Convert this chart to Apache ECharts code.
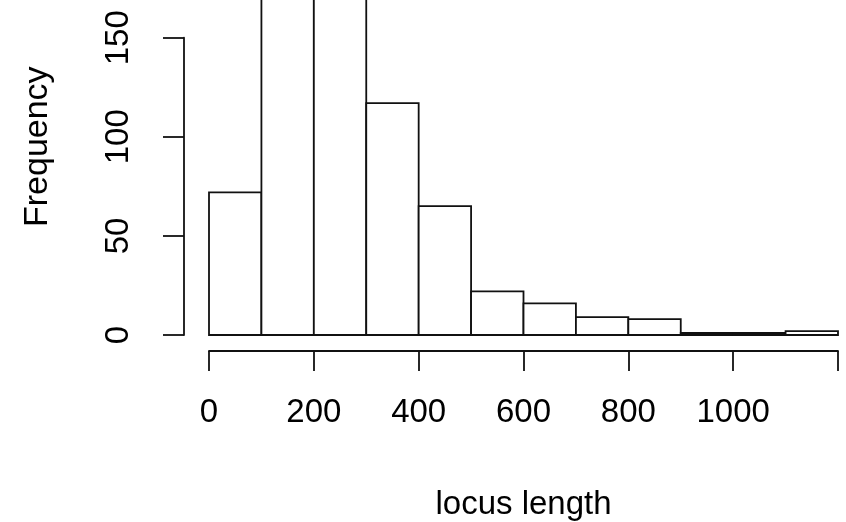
<!DOCTYPE html>
<html>
<head>
<meta charset="utf-8">
<script src="https://cdn.jsdelivr.net/npm/echarts@6/dist/echarts.min.js"></script>
<style>html,body{margin:0;padding:0;background:#fff;}#c{width:846px;height:522px;}</style>
</head>
<body>
<div id="c"></div>
<script>
var binStart = [0, 100, 200, 300, 400, 500, 600, 700, 800, 900, 1000, 1100];
var binEnd   = [100, 200, 300, 400, 500, 600, 700, 800, 900, 1000, 1100, 1200];
var counts   = [72, 232, 214, 117, 65, 22, 16, 9, 8, 1, 1, 2];
var xTickLabels = ['0', '200', '400', '600', '800', '1000'];
var yTickValues = [0, 50, 100, 150];

var FONT = "'Liberation Sans', Arial, sans-serif";
var FS = 33;
var LW = 1.8;
var pxPerUnit = (335 - 37.7) / 150;
var yMaxMain = 190;
var mainTop = 335 - yMaxMain * pxPerUnit;

var data = binStart.map(function (s, i) { return [s, binEnd[i], counts[i]]; });

var hiddenAxis = function (gi, min, max) {
  return { gridIndex: gi, type: 'value', min: min, max: max,
    axisLine: { show: false }, axisTick: { show: false }, axisLabel: { show: false }, splitLine: { show: false } };
};

var chart = echarts.init(document.getElementById('c'));
chart.setOption({
  backgroundColor: '#fff',
  animation: false,
  grid: [
    { left: 209, right: 8, top: mainTop, bottom: 187, containLabel: false, outerBoundsMode: 'none' },
    { left: 184, right: 8, top: 37.7, bottom: 187, containLabel: false, outerBoundsMode: 'none' },
    { left: 209, right: 8, top: 0, bottom: 171, containLabel: false, outerBoundsMode: 'none' }
  ],
  xAxis: [
    hiddenAxis(0, 0, 1200),
    hiddenAxis(1, 0, 1),
    {
      gridIndex: 2, type: 'value', min: 0, max: 1200, interval: 200,
      axisLine: { show: true, lineStyle: { color: '#111', width: LW } },
      axisTick: { show: true, length: 20, lineStyle: { color: '#111', width: LW } },
      splitLine: { show: false },
      axisLabel: {
        show: true, margin: 62, color: '#000', fontFamily: FONT, fontSize: FS,
        verticalAlign: 'middle',
        formatter: function (v) { var s = String(v); return xTickLabels.indexOf(s) >= 0 ? s : ''; }
      },
      name: 'locus length', nameLocation: 'middle', nameGap: 154,
      nameTextStyle: { color: '#000', fontFamily: FONT, fontSize: FS, verticalAlign: 'middle' }
    }
  ],
  yAxis: [
    (function () {
      var a = hiddenAxis(0, 0, yMaxMain);
      a.name = 'Frequency'; a.nameLocation = 'middle'; a.nameGap = 171; a.nameRotate = 90;
      a.nameTextStyle = { color: '#000', fontFamily: FONT, fontSize: 34, verticalAlign: 'middle' };
      return a;
    })(),
    {
      gridIndex: 1, type: 'value', min: 0, max: 150, interval: 50,
      axisLine: { show: true, lineStyle: { color: '#111', width: LW } },
      axisTick: { show: true, length: 21, lineStyle: { color: '#111', width: LW } },
      splitLine: { show: false },
      axisLabel: {
        show: true, rotate: 90, margin: 65, color: '#000', fontFamily: FONT, fontSize: FS,
        align: 'center', verticalAlign: 'middle',
        formatter: function (v) { return yTickValues.indexOf(v) >= 0 ? String(v) : ''; }
      }
    },
    hiddenAxis(2, 0, 1)
  ],
  series: [{
    type: 'custom',
    xAxisIndex: 0, yAxisIndex: 0,
    data: data,
    renderItem: function (params, api) {
      var p0 = api.coord([api.value(0), api.value(2)]);
      var p1 = api.coord([api.value(1), 0]);
      var cs = params.coordSys;
      var rect = echarts.graphic.clipRectByRect(
        { x: p0[0], y: p0[1], width: p1[0] - p0[0], height: p1[1] - p0[1] },
        { x: cs.x, y: cs.y, width: cs.width, height: cs.height }
      );
      return rect && { type: 'rect', shape: rect, style: { fill: '#fff', stroke: '#111', lineWidth: LW } };
    }
  }]
});
</script>
</body>
</html>
